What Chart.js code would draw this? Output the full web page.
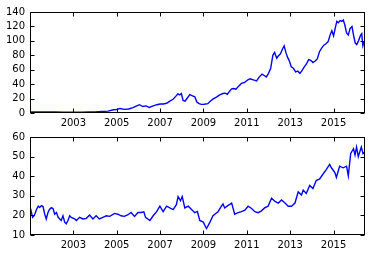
<!DOCTYPE html>
<html lang="en">
<head>
<meta charset="UTF-8">
<title>Two price series</title>
<script src="https://cdn.jsdelivr.net/npm/chart.js@4.4.0/dist/chart.umd.min.js"></script>
<style>
  body { margin: 0; background: #fff; }
  .wrap { position: relative; width: 372px; height: 256px; overflow: hidden; }
  canvas { position: absolute; left: 0; }
  #topChart { top: 0; }
  #bottomChart { top: 126px; }
</style>
</head>
<body>
<div class="wrap">
  <canvas id="topChart" width="372" height="128"></canvas>
  <canvas id="bottomChart" width="372" height="130"></canvas>
</div>
<script>
// x tick labels (years) and y ticks for each panel
const yearTicks = [2003, 2005, 2007, 2009, 2011, 2013, 2015];
const topYTicks = [0, 20, 40, 60, 80, 100, 120, 140];
const bottomYTicks = [10, 20, 30, 40, 50, 60];

// upper panel: dates (decimal years) and prices
const topYears = [
  2001.0, 2001.3, 2001.6, 2001.9, 2002.2, 2002.5, 2002.8, 2003.1, 2003.4, 2003.7,
  2004.0, 2004.3, 2004.6, 2004.85, 2005.0, 2005.15, 2005.35, 2005.55, 2005.75, 2005.9,
  2006.05, 2006.2, 2006.35, 2006.5, 2006.65, 2006.85, 2007.0, 2007.15, 2007.3, 2007.45,
  2007.6, 2007.72, 2007.82, 2007.9, 2007.98, 2008.06, 2008.15, 2008.25, 2008.37, 2008.47,
  2008.6, 2008.7, 2008.8, 2008.9, 2009.0, 2009.1, 2009.2, 2009.3, 2009.45, 2009.6,
  2009.75, 2009.9, 2010.0, 2010.1, 2010.2, 2010.3, 2010.4, 2010.5, 2010.6, 2010.75,
  2010.9, 2011.05, 2011.15, 2011.3, 2011.45, 2011.55, 2011.7, 2011.8, 2011.9, 2012.0,
  2012.1, 2012.2, 2012.28, 2012.38, 2012.45, 2012.55, 2012.65, 2012.72, 2012.8, 2012.88,
  2012.95, 2013.05, 2013.15, 2013.25, 2013.35, 2013.45, 2013.55, 2013.65, 2013.75, 2013.85,
  2013.95, 2014.05, 2014.15, 2014.25, 2014.35, 2014.45, 2014.55, 2014.65, 2014.75, 2014.85,
  2014.92, 2015.0, 2015.08, 2015.15, 2015.22, 2015.3, 2015.38, 2015.45, 2015.52, 2015.6,
  2015.68, 2015.76, 2015.85, 2015.92, 2016.0, 2016.07, 2016.15, 2016.25, 2016.3, 2016.35,
  2016.4, 2016.45
];
const topPrices = [
  1.5, 1.6, 1.4, 1.3, 1.6, 1.1, 1.0, 1.0, 1.2, 1.4,
  1.5, 2.0, 2.6, 4.5, 4.8, 6.3, 5.0, 5.5, 7.5, 9.5,
  11.5, 9.0, 9.8, 7.8, 9.5, 11.5, 12.5, 12.5, 13.5, 16.5,
  19, 23, 26.5, 25, 27, 17.5, 16.5, 20.5, 25.5, 24,
  22.5, 15, 13, 12, 12, 12.5, 13, 16, 19.5, 22,
  25, 27, 27.5, 26, 30, 33.5, 34, 33, 36.5, 41,
  42.5, 46, 47.5, 46, 44.5, 49, 54, 52, 50, 55,
  62, 80, 84, 76, 79, 82, 89, 93, 84, 77,
  73, 64, 62, 57, 58, 55, 59, 64, 68, 74,
  73, 70, 72, 75, 85, 90, 94, 96, 99, 109,
  114, 107, 118, 127, 125, 128, 127, 129, 122, 111,
  108, 117, 120, 108, 97, 95, 100, 108, 110, 93,
  98, 97
];

// lower panel: dates (decimal years) and prices
const bottomYears = [
  2001.0, 2001.05, 2001.12, 2001.2, 2001.3, 2001.38, 2001.45, 2001.52, 2001.6, 2001.68,
  2001.75, 2001.83, 2001.9, 2001.98, 2002.06, 2002.14, 2002.22, 2002.3, 2002.37, 2002.44,
  2002.52, 2002.6, 2002.67, 2002.75, 2002.83, 2002.9, 2003.06, 2003.14, 2003.29, 2003.44,
  2003.6, 2003.75, 2003.9, 2004.05, 2004.2, 2004.36, 2004.52, 2004.68, 2004.9, 2005.05,
  2005.2, 2005.35, 2005.5, 2005.66, 2005.82, 2005.98, 2006.13, 2006.25, 2006.33, 2006.53,
  2006.68, 2006.84, 2006.99, 2007.14, 2007.3, 2007.45, 2007.6, 2007.75, 2007.83, 2007.94,
  2008.02, 2008.14, 2008.3, 2008.45, 2008.6, 2008.72, 2008.83, 2008.99, 2009.14, 2009.3,
  2009.44, 2009.67, 2009.83, 2009.9, 2009.98, 2010.14, 2010.3, 2010.44, 2010.6, 2010.75,
  2010.91, 2011.06, 2011.22, 2011.37, 2011.52, 2011.66, 2011.82, 2011.98, 2012.14, 2012.3,
  2012.45, 2012.6, 2012.76, 2012.91, 2013.06, 2013.22, 2013.37, 2013.52, 2013.6, 2013.74,
  2013.9, 2014.05, 2014.2, 2014.36, 2014.51, 2014.67, 2014.82, 2014.9, 2015.06, 2015.13,
  2015.28, 2015.44, 2015.6, 2015.68, 2015.79, 2015.92, 2015.99, 2016.06, 2016.14, 2016.28,
  2016.36, 2016.44
];
const bottomPrices = [
  20.6, 22.3, 19, 20, 23, 24.7, 24, 25, 24.5, 20.6,
  18.2, 21.5, 23, 24, 23.5, 20.6, 21.5, 19, 18.2, 17.4,
  19.8, 16.5, 15.7, 17.4, 19.8, 19, 18.2, 17.4, 19, 18.2,
  18.5, 20.2, 18.2, 19.8, 18.2, 19, 19.8, 19.5, 21, 20.6,
  19.8, 19.5, 20.2, 21.5, 19.5, 21.5, 21.5, 21.8, 19, 17.4,
  19.8, 21.9, 24.7, 21.9, 24.7, 23.8, 23, 25.5, 29.6, 27.5,
  29.6, 23.8, 24.7, 23, 21.4, 22, 17.4, 16.6, 13.3, 16.6,
  19.8, 21.9, 24.7, 25.8, 23.8, 25.1, 26.3, 20.6, 21.4, 21.9,
  22.7, 24.7, 23.5, 21.9, 21.4, 22.2, 23.8, 24.7, 28.8, 27.1,
  26.3, 27.9, 26.3, 24.7, 24.7, 26.3, 32, 30.4, 32.9, 31.2,
  35.3, 33.7, 37.8, 38.6, 41, 43.5, 46, 44.3, 41.9, 39.4,
  45.1, 44.3, 45.1, 40.2, 51.6, 54, 50.8, 54.9, 50, 54.9,
  51.5, 52.4
];

// matplotlib-classic look: black frame with inward ticks on all four sides
const frameTicks = {
  id: 'frameTicks',
  afterDraw(chart) {
    const { ctx, chartArea: a, scales } = chart;
    const opts = chart.options.plugins.frameTicks;
    const L = Math.round(a.left) + 0.5, R = Math.round(a.right) - 0.5;
    const T = Math.round(a.top) + 0.5, B = Math.round(a.bottom) - 0.5;
    ctx.save();
    ctx.strokeStyle = '#000';
    ctx.lineWidth = 1;
    ctx.beginPath();
    opts.x.forEach(v => {
      const p = Math.round(scales.x.getPixelForValue(v)) + 0.5;
      ctx.moveTo(p, B); ctx.lineTo(p, B - 4);
      ctx.moveTo(p, T); ctx.lineTo(p, T + 4);
    });
    opts.y.forEach(v => {
      const p = Math.round(scales.y.getPixelForValue(v)) + 0.5;
      ctx.moveTo(L, p); ctx.lineTo(L + 4, p);
      ctx.moveTo(R, p); ctx.lineTo(R - 4, p);
    });
    ctx.stroke();
    ctx.strokeRect(L, T, R - L, B - T);
    ctx.restore();
  }
};

function makePanel(id, years, prices, yTicks, pad, xHeight) {
  const points = years.map((yr, i) => ({ x: yr, y: prices[i] }));
  return new Chart(document.getElementById(id), {
    type: 'line',
    data: {
      datasets: [{
        data: points,
        borderColor: '#0000ff',
        borderWidth: 1.4,
        pointRadius: 0,
        tension: 0,
        fill: false
      }]
    },
    options: {
      responsive: false,
      animation: false,
      layout: { padding: { top: pad, right: 7, left: 0, bottom: 0 } },
      plugins: {
        legend: { display: false },
        tooltip: { enabled: false },
        frameTicks: { x: yearTicks, y: yTicks }
      },
      scales: {
        x: {
          type: 'linear',
          min: 2001.0,
          max: 2016.45,
          grid: { display: false, drawTicks: false },
          border: { display: false },
          afterBuildTicks: s => { s.ticks = yearTicks.map(v => ({ value: v })); },
          afterFit: s => { s.height = xHeight; },
          ticks: {
            autoSkip: false,
            maxRotation: 0,
            padding: 4,
            color: '#000',
            font: { family: 'DejaVu Sans', size: 10 },
            callback: v => String(v)
          }
        },
        y: {
          min: yTicks[0],
          max: yTicks[yTicks.length - 1],
          grid: { display: false, drawTicks: false },
          border: { display: false },
          afterBuildTicks: s => { s.ticks = yTicks.map(v => ({ value: v })); },
          afterFit: s => { s.width = 30; },
          ticks: {
            autoSkip: false,
            padding: 5,
            color: '#000',
            font: { family: 'DejaVu Sans', size: 10 },
            callback: v => String(v)
          }
        }
      }
    },
    plugins: [frameTicks]
  });
}

makePanel('topChart', topYears, topPrices, topYTicks, 12, 15);
makePanel('bottomChart', bottomYears, bottomPrices, bottomYTicks, 7, 21);
</script>
</body>
</html>
